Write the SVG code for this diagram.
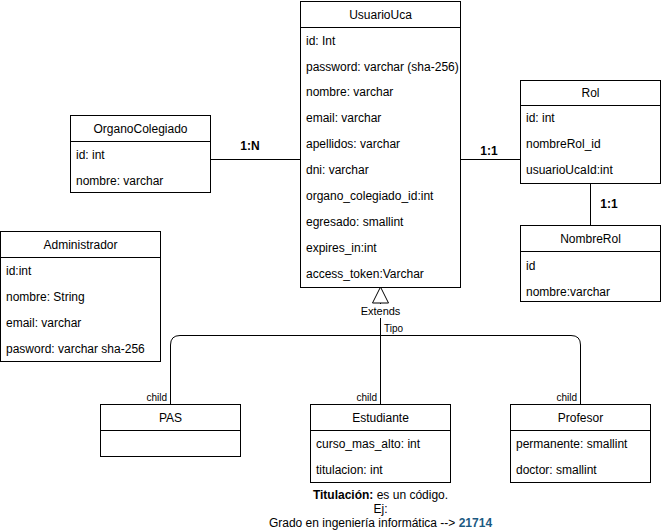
<svg xmlns="http://www.w3.org/2000/svg" width="661" height="530" viewBox="0 0 661 530">
<style>
.box{fill:#fff;stroke:#000;stroke-width:1}
.ln{fill:none;stroke:#000;stroke-width:1}
text{font-family:"Liberation Sans",Arial,sans-serif;font-size:12px;fill:#000}
.h{text-anchor:middle}
.b{font-weight:bold}
.s{font-size:10px}
.c{text-anchor:end;font-size:10px}
</style>
<rect width="661" height="530" fill="#fff"/>
<g id="connectors">
<line class="ln" x1="210" y1="159.5" x2="300" y2="159.5"/>
<text class="h b" x="250" y="150">1:N</text>
<line class="ln" x1="461" y1="159.5" x2="520" y2="159.5"/>
<text class="h b" x="489" y="155">1:1</text>
<line class="ln" x1="590.5" y1="184" x2="590.5" y2="225"/>
<text class="h b" x="609" y="208">1:1</text>
<line class="ln" x1="380.5" y1="303" x2="380.5" y2="404"/>
<path class="ln" d="M170.5 404 V345 Q170.5 335.5 180 335.5 H571 Q580.5 335.5 580.5 345 V404"/>
<polygon points="380.5,287 372.5,303 388.5,303" fill="#fff" stroke="#000"/>
<rect x="359" y="304" width="43" height="14" fill="#fff"/>
<text class="h" x="380.5" y="315" style="font-size:11px">Extends</text>
<text class="s" x="384" y="332">Tipo</text>
<text class="c" x="167" y="401">child</text>
<text class="c" x="377" y="401">child</text>
<text class="c" x="577" y="401">child</text>
</g>
<g id="UsuarioUca">
<rect class="box" x="300.5" y="1.5" width="160" height="286"/>
<line class="ln" x1="300.5" y1="27.5" x2="460.5" y2="27.5"/>
<text class="h" x="380.5" y="19">UsuarioUca</text>
<text x="306" y="45">id: Int</text>
<text x="306" y="71">password: varchar (sha-256)</text>
<text x="306" y="96">nombre: varchar</text>
<text x="306" y="122">email: varchar</text>
<text x="306" y="148">apellidos: varchar</text>
<text x="306" y="174">dni: varchar</text>
<text x="306" y="200">organo_colegiado_id:int</text>
<text x="306" y="226">egresado: smallint</text>
<text x="306" y="252">expires_in:int</text>
<text x="306" y="278">access_token:Varchar</text>
</g>
<g id="OrganoColegiado">
<rect class="box" x="70.5" y="115.5" width="140" height="77"/>
<line class="ln" x1="70.5" y1="141.5" x2="210.5" y2="141.5"/>
<text class="h" x="140.5" y="133">OrganoColegiado</text>
<text x="76" y="159">id: int</text>
<text x="76" y="185">nombre: varchar</text>
</g>
<g id="Rol">
<rect class="box" x="520.5" y="80.5" width="140" height="103"/>
<line class="ln" x1="520.5" y1="105.5" x2="660.5" y2="105.5"/>
<text class="h" x="590.5" y="97">Rol</text>
<text x="526" y="122">id: int</text>
<text x="526" y="148">nombreRol_id</text>
<text x="526" y="174">usuarioUcaId:int</text>
</g>
<g id="NombreRol">
<rect class="box" x="520.5" y="225.5" width="140" height="76"/>
<line class="ln" x1="520.5" y1="251.5" x2="660.5" y2="251.5"/>
<text class="h" x="590.5" y="243">NombreRol</text>
<text x="526" y="270">id</text>
<text x="526" y="296">nombre:varchar</text>
</g>
<g id="Administrador">
<rect class="box" x="0.5" y="231.5" width="160" height="130"/>
<line class="ln" x1="0.5" y1="257.5" x2="160.5" y2="257.5"/>
<text class="h" x="80.5" y="249">Administrador</text>
<text x="6" y="275">id:int</text>
<text x="6" y="301">nombre: String</text>
<text x="6" y="327">email: varchar</text>
<text x="6" y="353">pasword: varchar sha-256</text>
</g>
<g id="PAS">
<rect class="box" x="100.5" y="404.5" width="140" height="52"/>
<line class="ln" x1="100.5" y1="430.5" x2="240.5" y2="430.5"/>
<text class="h" x="170.5" y="422">PAS</text>
</g>
<g id="Estudiante">
<rect class="box" x="310.5" y="404.5" width="140" height="78"/>
<line class="ln" x1="310.5" y1="430.5" x2="450.5" y2="430.5"/>
<text class="h" x="380.5" y="422">Estudiante</text>
<text x="316" y="448">curso_mas_alto: int</text>
<text x="316" y="474">titulacion: int</text>
</g>
<g id="Profesor">
<rect class="box" x="510.5" y="404.5" width="140" height="78"/>
<line class="ln" x1="510.5" y1="430.5" x2="650.5" y2="430.5"/>
<text class="h" x="580.5" y="422">Profesor</text>
<text x="516" y="448">permanente: smallint</text>
<text x="516" y="474">doctor: smallint</text>
</g>
<g id="nota">
<text class="h" x="380.5" y="499"><tspan font-weight="bold">Titulación:</tspan> es un código.</text>
<text class="h" x="380.5" y="513">Ej:</text>
<text class="h" x="380.5" y="527">Grado en ingeniería informática --&gt; <tspan font-weight="bold" fill="#1B5A82">21714</tspan></text>
</g>
</svg>
